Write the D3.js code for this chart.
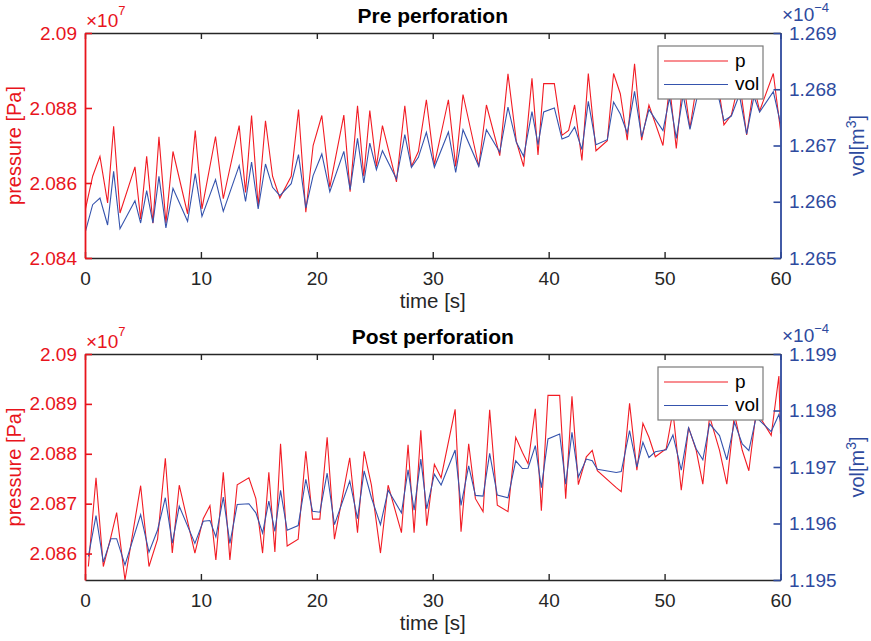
<!DOCTYPE html>
<html><head><meta charset="utf-8">
<script src="https://cdn.jsdelivr.net/npm/d3@7/dist/d3.min.js"></script>
<style>
body{margin:0;background:#fff}
svg{display:block}
text{font-family:"Liberation Sans",Arial,Helvetica,sans-serif}
</style>
</head><body>
<svg id="c" width="871" height="641"></svg>
<script>
// ---------- DATA ----------
const titles = ["Pre perforation", "Post perforation"];
const legendLabels = ["p", "vol"];
const xLabel = "time [s]";
const yLeftLabel = "pressure [Pa]";
const xTicks = [0, 10, 20, 30, 40, 50, 60];
const preLeftTicks = [2.084e7, 2.086e7, 2.088e7, 2.09e7];
const preRightTicks = [1.265, 1.266, 1.267, 1.268, 1.269];
const postLeftTicks = [2.086e7, 2.087e7, 2.088e7, 2.089e7, 2.09e7];
const postRightTicks = [1.195, 1.196, 1.197, 1.198, 1.199];

// Pre perforation: time [s], pressure [Pa], vol [x1e-4 m^3]
const preTime = [0.00,0.66,1.29,1.95,2.47,3.02,4.31,4.80,5.32,5.86,6.38,6.98,7.59,8.85,9.51,10.09,11.26,11.93,13.30,13.85,14.37,14.94,15.57,16.18,16.81,17.79,18.42,19.05,19.68,20.43,21.12,22.33,22.87,23.51,24.05,24.57,25.14,25.66,26.87,27.59,28.16,28.76,29.45,30.14,31.35,31.98,32.61,33.97,34.63,35.78,36.49,37.21,37.84,38.56,39.08,39.57,40.49,41.15,41.72,42.24,42.87,43.42,44.08,45.06,45.60,46.18,46.78,47.41,48.02,48.65,49.86,50.43,51.01,51.60,52.19,52.80,53.40,53.95,54.50,55.12,55.76,56.45,57.08,57.71,58.20,59.38,60.00];
const prePressure = [20852500,20861800,20867100,20854700,20875100,20852000,20864300,20850400,20867100,20849300,20872300,20849300,20868400,20851800,20874000,20853100,20872400,20855800,20875300,20857500,20878000,20853800,20876600,20861800,20856000,20861800,20879600,20852200,20870000,20878000,20858900,20878100,20857700,20880600,20861800,20879300,20864400,20875300,20860300,20880600,20864400,20868400,20882200,20864900,20882200,20864400,20883600,20864400,20880800,20867300,20889100,20871100,20864400,20887900,20867500,20886500,20886500,20872700,20874000,20880800,20866000,20889200,20868600,20871300,20889200,20883800,20871400,20891800,20871400,20880800,20870000,20886000,20869200,20888000,20874600,20887000,20888500,20886000,20889000,20875500,20878100,20887500,20872800,20886000,20879200,20889200,20874100];
const preVol = [1.265444,1.265948,1.266067,1.265587,1.266541,1.265521,1.266019,1.265622,1.266197,1.265622,1.266452,1.265533,1.266239,1.265652,1.266499,1.265741,1.266393,1.265830,1.266641,1.266007,1.266707,1.265871,1.266671,1.266256,1.266108,1.266321,1.266837,1.265889,1.266464,1.266849,1.266179,1.266896,1.266215,1.267127,1.266333,1.267044,1.266570,1.266908,1.266404,1.267193,1.266612,1.266790,1.267234,1.266612,1.267240,1.266523,1.267281,1.266630,1.267281,1.266879,1.267684,1.267056,1.266807,1.267601,1.267015,1.267596,1.267667,1.267116,1.267163,1.267329,1.266926,1.267785,1.267015,1.267104,1.267773,1.267560,1.267222,1.267963,1.267151,1.267637,1.267264,1.267850,1.267127,1.267900,1.267287,1.267850,1.267950,1.267900,1.268000,1.267441,1.267524,1.267900,1.267204,1.267870,1.267596,1.267957,1.267394];

// Post perforation
const postTime = [0.29,0.95,1.58,2.24,2.73,3.45,4.80,5.52,6.26,6.93,7.53,8.13,9.48,10.20,10.78,11.29,11.93,12.50,13.13,14.14,14.74,15.32,15.86,16.38,16.87,17.44,18.39,19.05,19.63,20.26,20.89,21.52,22.84,23.51,24.08,24.71,25.49,26.15,27.30,27.87,28.39,28.97,29.48,30.14,30.72,31.93,32.44,33.10,33.68,34.34,34.91,35.57,36.49,37.16,37.73,38.22,38.85,39.37,39.94,40.95,41.47,42.01,42.56,43.25,43.76,44.20,45.83,46.26,46.98,47.61,48.13,48.65,49.20,50.14,50.72,51.44,52.07,52.73,53.30,53.88,54.74,55.37,56.03,56.70,57.27,57.90,59.20,59.86,60.00];
const postPressure = [20857400,20875200,20857400,20863400,20868200,20854700,20873600,20857400,20862900,20879100,20860100,20873700,20860100,20867000,20869600,20858700,20876300,20858700,20873800,20875200,20871000,20860100,20876300,20860300,20882000,20861500,20862900,20880500,20866900,20866900,20883300,20862900,20879200,20864200,20880500,20873700,20860100,20873700,20864200,20881800,20864200,20884700,20865600,20877900,20875200,20888900,20864400,20882000,20871000,20868400,20888800,20869700,20868400,20883300,20880300,20878000,20889000,20868600,20891700,20891700,20871000,20891500,20873800,20879400,20880700,20876600,20873200,20872400,20890100,20876700,20886100,20883300,20879400,20881000,20888500,20872700,20885300,20880700,20873900,20887500,20880700,20873900,20888000,20880700,20876600,20888500,20883700,20895600,20884000];
const postVol = [1.195416,1.196141,1.195315,1.195731,1.195731,1.195267,1.196159,1.195493,1.195885,1.196456,1.195654,1.196307,1.195648,1.196040,1.196052,1.195761,1.196468,1.195648,1.196337,1.196349,1.196188,1.195832,1.196397,1.195862,1.196587,1.195879,1.195963,1.196783,1.196218,1.196200,1.196890,1.195980,1.196753,1.196087,1.196931,1.196456,1.195980,1.196587,1.196188,1.196949,1.196236,1.197140,1.196260,1.196872,1.196682,1.197300,1.196319,1.197021,1.196498,1.196486,1.197241,1.196504,1.196456,1.197110,1.196973,1.196979,1.197377,1.196634,1.197496,1.197585,1.196694,1.197615,1.196824,1.197140,1.197110,1.196961,1.196902,1.196920,1.197645,1.197003,1.197437,1.197169,1.197270,1.197306,1.197567,1.196943,1.197692,1.197318,1.197128,1.197764,1.197556,1.197128,1.197793,1.197407,1.197288,1.197883,1.197627,1.197930,1.197800];

// ---------- DRAW ----------
const svg = d3.select("#c");
const X0 = 85, X1 = 780.5;
const RED = "#e8141c", RED_LINE = "#f21c24";
const BLUE = "#2e4a9e", BLUE_LINE = "#3553ad";
const GRAY = "#262626";
const TICK_FS = 19, LABEL_FS = 20.5, TITLE_FS = 21;

const panels = [
  {title: titles[0], time: preTime, p: prePressure, v: preVol, top: 33, bot: 258,
   pDom: [2.084e7, 2.09e7], vDom: [1.265, 1.269], pTicks: preLeftTicks, vTicks: preRightTicks},
  {title: titles[1], time: postTime, p: postPressure, v: postVol, top: 354, bot: 580,
   pDom: [2.08547e7, 2.09e7], vDom: [1.195, 1.199], pTicks: postLeftTicks, vTicks: postRightTicks}
];

const defs = svg.append("defs");

panels.forEach((P, i) => {
  const x = d3.scaleLinear().domain([0, 60]).range([X0, X1]);
  const yL = d3.scaleLinear().domain(P.pDom).range([P.bot, P.top]);
  const yR = d3.scaleLinear().domain(P.vDom).range([P.bot, P.top]);
  const g = svg.append("g");

  defs.append("clipPath").attr("id", "clip" + i)
    .append("rect").attr("x", X0).attr("y", P.top).attr("width", X1 - X0).attr("height", P.bot - P.top);

  const plot = g.append("g").attr("clip-path", `url(#clip${i})`);
  const lineL = d3.line().x((d, j) => x(P.time[j])).y(d => yL(d));
  const lineR = d3.line().x((d, j) => x(P.time[j])).y(d => yR(d));
  plot.append("path").datum(P.p).attr("d", lineL)
    .attr("fill", "none").attr("stroke", RED_LINE).attr("stroke-width", 1.1);
  plot.append("path").datum(P.v).attr("d", lineR)
    .attr("fill", "none").attr("stroke", BLUE_LINE).attr("stroke-width", 1.1);

  // x axes (bottom + top)
  const xb = g.append("g").attr("transform", `translate(0,${P.bot})`)
    .call(d3.axisBottom(x).tickValues(xTicks).tickSize(-6).tickSizeOuter(0).tickPadding(14).tickFormat(d3.format("d")));
  const xt = g.append("g").attr("transform", `translate(0,${P.top})`)
    .call(d3.axisTop(x).tickValues(xTicks).tickSize(-6).tickSizeOuter(0).tickFormat(""));
  [xb, xt].forEach(a => {
    a.select(".domain").attr("stroke", GRAY).attr("stroke-width", 1.6);
    a.selectAll(".tick line").attr("stroke", GRAY).attr("stroke-width", 1.4);
    a.selectAll("text").attr("fill", GRAY).attr("font-size", TICK_FS).attr("font-family", null);
  });

  // left axis
  const fmtP = d => String(+(d / 1e7).toFixed(4));
  const yl = g.append("g").attr("transform", `translate(${X0},0)`)
    .call(d3.axisLeft(yL).tickValues(P.pTicks).tickSize(-7).tickSizeOuter(0).tickPadding(8).tickFormat(fmtP));
  yl.select(".domain").attr("stroke", RED).attr("stroke-width", 1.8);
  yl.selectAll(".tick line").attr("stroke", RED).attr("stroke-width", 1.6);
  yl.selectAll("text").attr("fill", RED).attr("font-size", TICK_FS).attr("font-family", null);

  // right axis
  const fmtV = d => String(+d.toFixed(4));
  const yr = g.append("g").attr("transform", `translate(${X1},0)`)
    .call(d3.axisRight(yR).tickValues(P.vTicks).tickSize(-7).tickSizeOuter(0).tickPadding(8.5).tickFormat(fmtV));
  yr.select(".domain").attr("stroke", BLUE).attr("stroke-width", 1.8);
  yr.selectAll(".tick line").attr("stroke", BLUE).attr("stroke-width", 1.6);
  yr.selectAll("text").attr("fill", BLUE).attr("font-size", TICK_FS).attr("font-family", null);

  // title
  g.append("text").attr("x", (X0 + X1) / 2).attr("y", P.top - 10)
    .attr("text-anchor", "middle").attr("font-weight", "bold").attr("font-size", TITLE_FS)
    .attr("fill", "#000").text(P.title);

  // x label
  g.append("text").attr("x", (X0 + X1) / 2).attr("y", P.bot + 50)
    .attr("text-anchor", "middle").attr("font-size", LABEL_FS).attr("fill", GRAY).text(xLabel);

  // left y label
  const midY = (P.top + P.bot) / 2;
  g.append("text").attr("transform", `translate(21,${midY}) rotate(-90)`)
    .attr("text-anchor", "middle").attr("font-size", 20).attr("fill", RED).text(yLeftLabel);

  // right y label vol[m^3]
  const rl = g.append("text").attr("transform", `translate(864,${midY}) rotate(-90)`)
    .attr("text-anchor", "middle").attr("font-size", 20).attr("fill", BLUE);
  rl.append("tspan").text("vol[m");
  rl.append("tspan").attr("font-size", 14).attr("dy", -8).text("3");
  rl.append("tspan").attr("dy", 8).text("]");

  // exponent labels
  const el = g.append("text").attr("x", 86).attr("y", P.top - 6)
    .attr("font-size", TICK_FS).attr("fill", RED);
  el.append("tspan").text("\u00d710");
  el.append("tspan").attr("font-size", 13).attr("dy", -12).text("7");
  const er = g.append("text").attr("x", 782).attr("y", P.top - 12)
    .attr("font-size", TICK_FS).attr("fill", BLUE);
  er.append("tspan").text("\u00d710");
  er.append("tspan").attr("font-size", 13).attr("dy", -9).text("\u22124");

  // legend
  const lx = 658, ly = P.top + 13, lw = 105, lh = 53;
  const lg = g.append("g");
  lg.append("rect").attr("x", lx).attr("y", ly).attr("width", lw).attr("height", lh)
    .attr("fill", "#fff").attr("stroke", "#7a7a7a").attr("stroke-width", 1.2);
  const entries = [{label: legendLabels[0], color: RED_LINE, dy: 15}, {label: legendLabels[1], color: BLUE_LINE, dy: 38.5}];
  entries.forEach(e => {
    lg.append("line").attr("x1", lx + 6).attr("x2", lx + 70).attr("y1", ly + e.dy).attr("y2", ly + e.dy)
      .attr("stroke", e.color).attr("stroke-width", 1.1);
    lg.append("text").attr("x", lx + 77).attr("y", ly + e.dy + 5.5)
      .attr("font-size", TICK_FS).attr("fill", "#000").text(e.label);
  });
});
</script>
</body></html>
